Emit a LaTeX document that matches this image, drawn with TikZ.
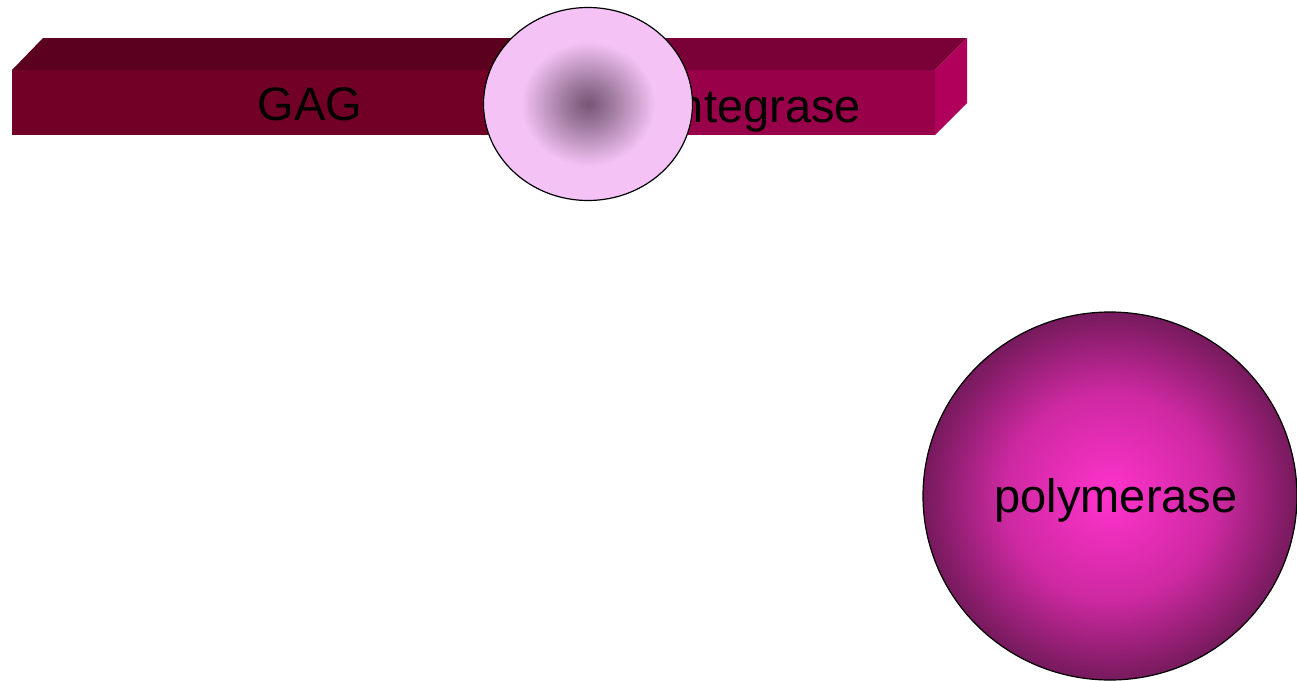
\documentclass[tikz,border=0pt]{standalone}
\usepackage{fontspec}
\setmainfont{Liberation Sans}
\usetikzlibrary{shapes.geometric}
\definecolor{gagfront}{HTML}{720026}
\definecolor{gagtop}{HTML}{5C001F}
\definecolor{intfront}{HTML}{98004A}
\definecolor{inttop}{HTML}{7A0038}
\definecolor{intside}{HTML}{B0005C}
\definecolor{pinkout}{HTML}{F4C2F4}
\definecolor{pinkin}{HTML}{775577}
\definecolor{pinkmid}{HTML}{A07CA0}
\definecolor{polin}{HTML}{FF33CC}
\definecolor{polmid}{HTML}{CE29A2}
\definecolor{polout}{HTML}{761A5C}
% shading radius 25bp = node edge
\pgfdeclareradialshading{protball}{\pgfpoint{0bp}{0bp}}{color(0bp)=(pinkin); color(6bp)=(pinkmid); color(16bp)=(pinkout); color(50bp)=(pinkout)}
\pgfdeclareradialshading{polball}{\pgfpoint{0bp}{0bp}}{color(0bp)=(polin); color(14bp)=(polmid); color(25bp)=(polout); color(50bp)=(polout)}
\tikzset{
  lbl/.style={font=\fontsize{47}{56}\selectfont, text=black, inner sep=0pt},
  ball/.style={ellipse, draw=black, line width=1.2pt, inner sep=0pt}
}
\begin{document}
\begin{tikzpicture}[x=1pt,y=-1pt]
\useasboundingbox (0,0) rectangle (1297,680);
% bar
\fill[gagfront] (12,70) rectangle (588,135);
\fill[intfront] (588,70) rectangle (935,135);
\fill[gagtop] (12,70) -- (43,38) -- (619,38) -- (588,70) -- cycle;
\fill[inttop] (588,70) -- (619,38) -- (967,38) -- (935,70) -- cycle;
\fill[intside] (935,70) -- (967,38) -- (967,103) -- (935,135) -- cycle;
\node[lbl, anchor=base] (gag) at (310,120) {GAG};
\node[lbl, anchor=base east] (int) at (861,122) {integrase};
% protease ball
\node[ball, shading=protball, minimum width=209pt, minimum height=193pt] (prot) at (588,104) {};
% polymerase ball
\node[ball, shading=polball, minimum width=374pt, minimum height=368pt] (pol) at (1110,496) {};
\node[lbl, anchor=base] (poltext) at (1116,512) {polymerase};
\end{tikzpicture}
\end{document}
